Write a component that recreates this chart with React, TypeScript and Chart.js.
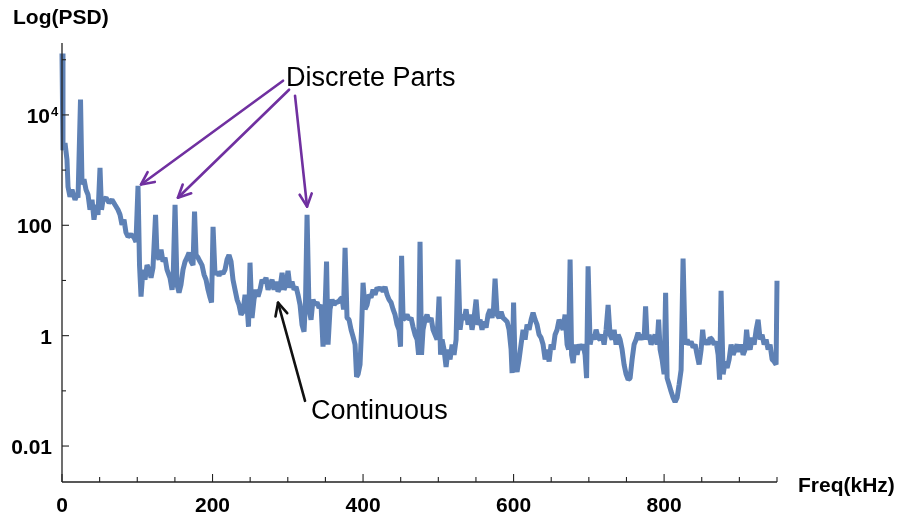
import React, { useEffect, useRef } from 'react';
import { Chart, registerables } from 'chart.js';

Chart.register(...registerables);

// Frequency (kHz) of each sample
const freqKHz = [
  0, 1.3, 4.0, 6.6, 8.0, 10.6, 13.3, 17.3, 19.9, 21.3,
  24.6, 26.6, 29.2, 31.9, 34.6, 37.2, 39.9, 42.5, 45.2, 47.8,
  50.5, 52.5, 54.5, 58.5, 62.5, 66.4, 70.4, 74.4, 77.1, 79.7,
  82.4, 85.0, 87.7, 91.7, 95.7, 98.3, 101.0, 103.0, 105.0, 107.6,
  110.3, 113.0, 115.6, 118.3, 120.9, 124.3, 126.2, 128.9, 131.6, 134.2,
  136.9, 139.5, 143.5, 146.2, 147.5, 150.2, 152.8, 155.5, 158.1, 160.8,
  163.5, 166.1, 168.8, 171.4, 174.1, 176.1, 178.1, 180.7, 183.4, 186.0,
  188.7, 191.4, 194.0, 196.7, 198.7, 200.7, 203.3, 206.0, 208.6, 211.3,
  214.0, 216.6, 219.3, 221.9, 224.6, 227.2, 229.9, 232.6, 235.2, 237.9,
  240.5, 243.2, 245.8, 247.8, 249.8, 252.5, 255.1, 257.8, 260.5, 263.1,
  265.8, 268.4, 271.1, 273.8, 276.4, 279.1, 281.7, 284.4, 287.0, 289.7,
  292.4, 295.0, 297.7, 300.3, 303.0, 305.6, 308.3, 311.0, 313.6, 316.3,
  318.9, 321.6, 323.6, 325.6, 328.2, 330.9, 333.5, 336.2, 338.9, 341.5,
  344.2, 346.8, 349.5, 351.5, 353.5, 356.1, 358.8, 361.5, 364.1, 366.8,
  369.4, 372.1, 374.1, 376.1, 378.7, 381.4, 384.1, 386.7, 389.4, 391.4,
  393.4, 396.0, 398.0, 400.0, 402.7, 405.3, 408.0, 410.6, 413.3, 415.9,
  418.6, 421.3, 423.9, 426.6, 429.2, 431.9, 434.5, 437.2, 439.9, 442.5,
  445.2, 447.8, 449.8, 451.2, 453.2, 455.8, 458.5, 461.1, 463.8, 466.4,
  469.1, 471.8, 473.8, 475.7, 477.7, 479.7, 482.4, 485.0, 487.7, 490.4,
  493.0, 495.7, 498.3, 501.0, 503.0, 505.0, 507.6, 510.3, 513.0, 515.6,
  518.3, 520.9, 523.6, 526.2, 528.9, 531.6, 534.2, 536.9, 539.5, 542.2,
  544.8, 547.5, 550.2, 552.8, 555.5, 558.1, 560.8, 563.5, 566.1, 568.8,
  571.4, 573.4, 575.4, 578.1, 580.7, 583.4, 586.0, 588.7, 591.4, 594.0,
  596.7, 598.0, 600.0, 602.0, 604.6, 607.3, 609.9, 612.6, 615.3, 617.9,
  620.6, 623.3, 625.9, 628.6, 631.2, 633.9, 636.5, 639.2, 641.9, 644.5,
  647.2, 649.8, 652.5, 655.1, 657.8, 660.5, 663.1, 665.8, 668.4, 671.1,
  673.1, 675.1, 677.1, 679.1, 681.7, 684.4, 687.0, 689.7, 692.4, 695.0,
  697.0, 699.0, 701.7, 704.3, 707.0, 709.6, 712.3, 715.0, 717.6, 720.3,
  722.9, 725.6, 728.2, 730.9, 733.6, 736.2, 738.9, 741.5, 744.2, 746.8,
  749.5, 752.2, 754.8, 757.5, 760.1, 762.8, 765.4, 768.1, 770.8, 773.4,
  775.4, 777.4, 780.1, 782.7, 785.4, 788.0, 790.7, 792.7, 794.7, 797.3,
  800.0, 802.0, 804.0, 806.6, 809.3, 812.0, 814.6, 817.3, 819.9, 822.6,
  825.2, 827.9, 830.6, 833.2, 835.9, 838.5, 841.2, 843.8, 846.5, 849.2,
  851.2, 853.2, 855.8, 858.5, 861.1, 863.8, 866.4, 869.1, 871.8, 873.7,
  875.7, 878.4, 881.1, 883.7, 886.4, 889.0, 891.7, 894.3, 897.0, 899.7,
  902.3, 905.0, 907.6, 909.6, 911.6, 914.3, 916.9, 919.6, 922.3, 924.9,
  927.6, 930.2, 932.9, 935.5, 938.2, 940.8, 943.5, 946.2, 948.8, 950.0,
];

// Power spectral density at each frequency
const psdValues = [
  130000, 2300, 3100, 1550, 500, 330, 440, 290, 357, 316,
  19000, 550, 680, 440, 357, 191, 290, 126, 235, 155,
  1100, 191, 290, 316, 257, 290, 235, 191, 155, 102,
  126, 74, 62, 68, 60, 50, 520, 19, 5.1, 15.7,
  10.3, 19, 15.7, 11.2, 17, 155, 29, 24, 36, 22,
  26, 15.7, 11.2, 6.8, 9.1, 235, 8.4, 6.0, 8.4, 15.7,
  22, 26, 32, 22, 19, 177, 29, 26, 22, 19,
  12.8, 10.3, 6.8, 4.9, 4.0, 94, 12.8, 14.4, 12.2, 14.4,
  13.3, 15.7, 24, 29, 22, 10.3, 6.8, 4.5, 3.6, 2.4,
  2.7, 5.5, 3.6, 1.45, 21, 2.1, 4.5, 6.8, 5.1, 6.8,
  10.3, 9.1, 11.2, 6.8, 8.4, 10.3, 6.8, 9.5, 6.3, 7.4,
  13.8, 6.8, 8.4, 15, 7.4, 9.5, 6.8, 7.7, 5.5, 3.6,
  1.58, 1.18, 4.5, 155, 3.0, 1.95, 4.5, 3.6, 4.0, 3.2,
  3.6, 0.63, 3.0, 22, 0.69, 3.0, 4.5, 3.6, 4.1, 4.0,
  4.5, 4.9, 3.0, 39, 2.1, 1.95, 1.28, 0.96, 0.69, 0.18,
  0.20, 0.30, 1.28, 9.1, 3.0, 3.6, 5.5, 4.9, 6.8, 5.5,
  7.4, 6.8, 7.4, 6.3, 7.7, 5.5, 4.5, 4.0, 3.0, 2.4,
  1.58, 1.28, 0.63, 28, 1.95, 2.1, 2.4, 1.95, 2.1, 1.45,
  1.04, 0.85, 0.45, 50, 0.45, 1.28, 1.95, 2.4, 1.79, 2.1,
  1.28, 1.04, 0.85, 5.1, 0.45, 0.85, 0.56, 0.27, 0.56, 0.37,
  0.69, 0.45, 0.85, 24, 1.28, 2.4, 1.95, 3.0, 1.58, 2.4,
  1.28, 2.1, 4.5, 1.58, 1.95, 1.28, 1.79, 1.40, 2.4, 3.0,
  2.1, 3.2, 10.8, 2.4, 2.1, 2.7, 2.1, 1.95, 1.79, 1.28,
  0.56, 0.21, 4.0, 0.30, 0.22, 0.37, 0.69, 1.28, 0.85, 1.58,
  1.28, 1.95, 2.6, 1.95, 1.58, 1.04, 0.92, 0.69, 0.37, 0.56,
  0.34, 0.69, 0.56, 1.04, 1.28, 1.95, 1.58, 1.28, 2.4, 0.69,
  0.56, 24, 0.45, 0.32, 0.69, 0.45, 0.69, 0.56, 0.69, 0.45,
  0.17, 18, 0.69, 1.04, 0.85, 1.28, 0.92, 0.85, 1.04, 0.69,
  1.28, 3.6, 1.04, 0.85, 1.28, 0.69, 1.04, 0.85, 0.56, 0.30,
  0.20, 0.16, 0.17, 0.37, 0.69, 0.85, 1.13, 0.85, 1.04, 0.85,
  3.4, 0.85, 1.04, 0.69, 0.85, 1.04, 0.69, 1.95, 0.56, 0.37,
  0.20, 6.0, 0.17, 0.13, 0.097, 0.075, 0.063, 0.075, 0.13, 0.24,
  25, 0.69, 0.85, 0.69, 0.78, 0.61, 0.69, 0.45, 0.30, 0.56,
  1.28, 0.69, 0.85, 0.69, 0.92, 0.85, 0.69, 0.78, 0.45, 0.16,
  6.5, 0.20, 0.34, 0.26, 0.37, 0.69, 0.45, 0.56, 0.69, 0.51,
  0.69, 0.45, 0.56, 1.28, 0.69, 0.56, 0.92, 0.69, 1.28, 1.95,
  0.85, 1.04, 0.69, 0.85, 0.56, 0.69, 0.37, 0.34, 0.30, 9.9,
];

// Axis ticks
const xTickValues = [0, 50, 100, 150, 200, 250, 300, 350, 400, 450, 500, 550, 600, 650, 700, 750, 800, 850, 900, 950];
const xTickLabels = ['0', '', '', '', '200', '', '', '', '400', '', '', '', '600', '', '', '', '800', '', '', ''];
const yTickValues = [0.01, 0.1, 1, 10, 100, 1000, 10000, 100000];
const yTickLabels = ['0.01', '', '1', '', '100', '', '10^4', ''];

// Annotations (in data coordinates: kHz, PSD)
const discreteFromFreq = [293.7, 301.7, 309.6];
const discreteFromPsd = [41700, 28600, 22300];
const discreteToFreq = [105, 154, 325.6];
const discreteToPsd = [550, 316, 218];
const discreteLabel = 'Discrete Parts';
const discreteLabelAt = [297.7, 33700];
const continuousFrom = [322.9, 0.066];
const continuousTo = [287, 3.96];
const continuousLabel = 'Continuous';
const continuousLabelAt = [330.9, 0.0315];

const FONT = '"Liberation Sans", Arial, Helvetica, sans-serif';

function drawArrow(ctx: CanvasRenderingContext2D, x1: number, y1: number, x2: number, y2: number, color: string) {
  ctx.strokeStyle = color;
  ctx.lineWidth = 2.6;
  ctx.lineCap = 'round';
  ctx.lineJoin = 'round';
  ctx.beginPath();
  ctx.moveTo(x1, y1);
  ctx.lineTo(x2, y2);
  ctx.stroke();
  const ang = Math.atan2(y2 - y1, x2 - x1);
  const L = 14;
  const a = 0.45;
  ctx.beginPath();
  ctx.moveTo(x2 - L * Math.cos(ang - a), y2 - L * Math.sin(ang - a));
  ctx.lineTo(x2, y2);
  ctx.lineTo(x2 - L * Math.cos(ang + a), y2 - L * Math.sin(ang + a));
  ctx.stroke();
}

const overlayPlugin = {
  id: 'overlay',
  afterDatasetsDraw(chart: any) {
    const { ctx, chartArea, scales } = chart;
    const xs = scales.x;
    const ys = scales.y;
    const { left, right, top, bottom } = chartArea;
    ctx.save();
    // axes lines
    ctx.strokeStyle = '#222';
    ctx.lineWidth = 1.3;
    ctx.beginPath();
    ctx.moveTo(left, bottom);
    ctx.lineTo(right, bottom);
    ctx.moveTo(left, bottom);
    ctx.lineTo(left, top);
    ctx.stroke();

    // x ticks + labels
    ctx.lineWidth = 1.1;
    ctx.fillStyle = '#000';
    ctx.font = `bold 21px ${FONT}`;
    ctx.textAlign = 'center';
    ctx.textBaseline = 'alphabetic';
    xTickValues.forEach((v, i) => {
      const px = xs.getPixelForValue(v);
      const major = xTickLabels[i] !== '';
      ctx.beginPath();
      ctx.moveTo(px, bottom);
      ctx.lineTo(px, bottom - (major ? 8 : 5));
      ctx.stroke();
      if (major) ctx.fillText(xTickLabels[i], px, bottom + 30);
    });

    // y ticks + labels
    yTickValues.forEach((v, i) => {
      const py = ys.getPixelForValue(v);
      const lab = yTickLabels[i];
      const major = lab !== '';
      ctx.beginPath();
      ctx.moveTo(left, py);
      ctx.lineTo(left + (major ? 7 : 4), py);
      ctx.stroke();
      if (!major) return;
      if (lab.includes('^')) {
        const [base, exp] = lab.split('^');
        ctx.font = `bold 21px ${FONT}`;
        ctx.textAlign = 'right';
        ctx.fillText(base, left - 12, py + 8);
        ctx.font = `bold 13px ${FONT}`;
        ctx.textAlign = 'left';
        ctx.fillText(exp, left - 11, py + 1);
      } else {
        ctx.font = `bold 21px ${FONT}`;
        ctx.textAlign = 'right';
        ctx.fillText(lab, left - 10, py + 8);
      }
    });

    // axis titles
    ctx.font = `bold 21px ${FONT}`;
    ctx.textAlign = 'left';
    ctx.fillText('Log(PSD)', left - 49, top - 19);
    ctx.fillText('Freq(kHz)', right + 21, bottom + 10);

    // annotations
    const purple = '#7030A0';
    discreteFromFreq.forEach((f, i) => {
      drawArrow(
        ctx,
        xs.getPixelForValue(f), ys.getPixelForValue(discreteFromPsd[i]),
        xs.getPixelForValue(discreteToFreq[i]), ys.getPixelForValue(discreteToPsd[i]),
        purple
      );
    });
    drawArrow(
      ctx,
      xs.getPixelForValue(continuousFrom[0]), ys.getPixelForValue(continuousFrom[1]),
      xs.getPixelForValue(continuousTo[0]), ys.getPixelForValue(continuousTo[1]),
      '#111'
    );
    ctx.fillStyle = '#000';
    ctx.font = `27px ${FONT}`;
    ctx.textAlign = 'left';
    ctx.fillText(discreteLabel, xs.getPixelForValue(discreteLabelAt[0]), ys.getPixelForValue(discreteLabelAt[1]));
    ctx.fillText(continuousLabel, xs.getPixelForValue(continuousLabelAt[0]), ys.getPixelForValue(continuousLabelAt[1]));
    ctx.restore();
  },
};

export default function App() {
  const canvasRef = useRef<HTMLCanvasElement | null>(null);

  useEffect(() => {
    if (!canvasRef.current) return;
    const data = freqKHz.map((f, i) => ({ x: f, y: psdValues[i] }));
    const chart = new Chart(canvasRef.current, {
      type: 'line',
      data: {
        datasets: [
          {
            data,
            borderColor: '#5E81B5',
            borderWidth: 5,
            pointRadius: 0,
            tension: 0,
            borderJoinStyle: 'bevel',
            clip: false,
          } as any,
        ],
      },
      options: {
        responsive: false,
        animation: false,
        layout: { padding: { left: 0, top: 43, right: 126, bottom: 0 } },
        plugins: { legend: { display: false }, tooltip: { enabled: false } },
        scales: {
          x: {
            type: 'linear',
            min: 0,
            max: 950,
            grid: { display: false },
            border: { display: false },
            ticks: { display: false, stepSize: 50 },
            afterFit: (s: any) => { s.height = 38; },
          },
          y: {
            type: 'logarithmic',
            min: 0.00223,
            max: 201000,
            grid: { display: false },
            border: { display: false },
            ticks: { display: false },
            afterFit: (s: any) => { s.width = 62; },
          },
        },
      },
      plugins: [overlayPlugin],
    });
    return () => chart.destroy();
  }, []);

  return (
    <div style={{ position: 'absolute', left: 0, top: 0, width: 903, height: 520, background: '#fff' }}>
      <canvas ref={canvasRef} width={903} height={520} />
    </div>
  );
}
